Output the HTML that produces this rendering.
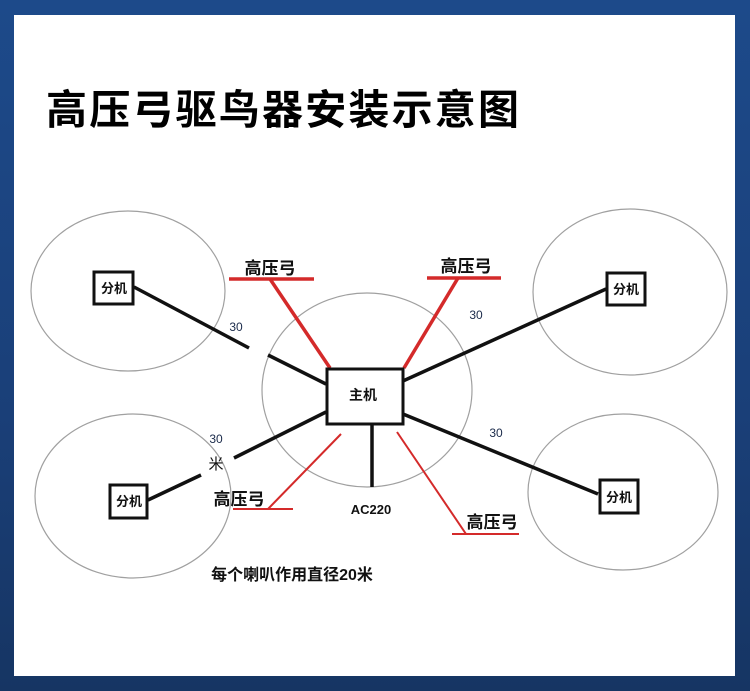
<!DOCTYPE html>
<html><head><meta charset="utf-8"><style>
html,body{margin:0;padding:0;}
body{width:750px;height:691px;background:linear-gradient(180deg,#1d4a8a,#1a3f78 60%,#163563);position:relative;overflow:hidden;}
.panel{position:absolute;left:14px;top:15px;width:721px;height:661px;background:#fff;}
svg{position:absolute;left:0;top:0;}
</style></head><body>
<div class="panel"></div>
<svg width="750" height="691" viewBox="0 0 750 691" font-family="'Liberation Sans','Noto Sans CJK SC',sans-serif">
<g fill="none" stroke="#a0a0a0" stroke-width="1.2">
<ellipse cx="128" cy="291" rx="97" ry="80"/>
<ellipse cx="630" cy="292" rx="97" ry="83"/>
<ellipse cx="133" cy="496" rx="98" ry="82"/>
<ellipse cx="623" cy="492" rx="95" ry="78"/>
<ellipse cx="367" cy="390" rx="105" ry="97"/>
</g>
<text x="46" y="124" font-size="41" font-weight="bold" fill="#000" letter-spacing="2.2">高压弓驱鸟器安装示意图</text>
<g stroke="#111" stroke-width="3.5" fill="none">
<line x1="134" y1="287" x2="249" y2="348"/>
<line x1="268" y1="355" x2="326" y2="384"/>
<line x1="403" y1="381" x2="606" y2="289"/>
<line x1="326" y1="412" x2="234" y2="458"/>
<line x1="201" y1="475" x2="148" y2="500"/>
<line x1="403" y1="414" x2="598" y2="494"/>
<line x1="372" y1="425" x2="372" y2="487"/>
</g>
<g stroke="#d42a2a" fill="none">
<line x1="229" y1="279" x2="314" y2="279" stroke-width="3.5"/>
<line x1="270" y1="279" x2="330" y2="368" stroke-width="3.5"/>
<line x1="427" y1="278" x2="501" y2="278" stroke-width="3.5"/>
<line x1="458" y1="278" x2="404" y2="368" stroke-width="3.5"/>
<line x1="233" y1="509" x2="293" y2="509" stroke-width="2"/>
<line x1="268" y1="509" x2="341" y2="434" stroke-width="2"/>
<line x1="452" y1="534" x2="519" y2="534" stroke-width="2"/>
<line x1="466" y1="534" x2="397" y2="432" stroke-width="2"/>
</g>
<g fill="#fff" stroke="#111" stroke-width="3">
<rect x="327" y="369" width="76" height="55"/>
<rect x="94" y="272" width="39" height="32"/>
<rect x="607" y="273" width="38" height="32"/>
<rect x="110" y="485" width="37" height="33"/>
<rect x="600" y="480" width="38" height="33"/>
</g>
<g font-weight="bold" fill="#111" text-anchor="middle">
<text x="363" y="400" font-size="14">主机</text>
<text x="114" y="293" font-size="13">分机</text>
<text x="626" y="294" font-size="13">分机</text>
<text x="129" y="506" font-size="13">分机</text>
<text x="619" y="502" font-size="13">分机</text>
<text x="270" y="274" font-size="17">高压弓</text>
<text x="466" y="272" font-size="17">高压弓</text>
<text x="239" y="505" font-size="17">高压弓</text>
<text x="492" y="528" font-size="17">高压弓</text>
<text x="371" y="514" font-size="13">AC220</text>
<text x="292" y="580" font-size="16">每个喇叭作用直径20米</text>
</g>
<g font-size="12" fill="#1a2a4a" text-anchor="middle">
<text x="236" y="331">30</text>
<text x="476" y="319">30</text>
<text x="216" y="443">30</text>
<text x="496" y="437">30</text>
<text x="216" y="469" font-size="15" fill="#111">米</text>
</g>
</svg>
</body></html>
